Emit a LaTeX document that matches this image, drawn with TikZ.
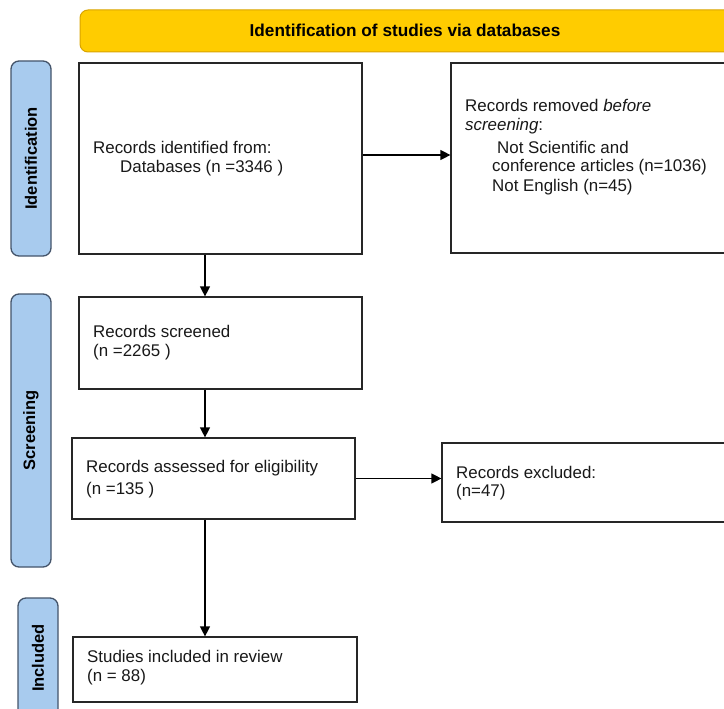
\documentclass[tikz,border=0pt]{standalone}
\usepackage{fontspec}
\setmainfont{Liberation Sans}
\usetikzlibrary{arrows.meta,calc}
\definecolor{hdrfill}{HTML}{FFCC00}
\definecolor{hdrline}{HTML}{D9A400}
\definecolor{sidefill}{HTML}{A8CBEE}
\definecolor{sideline}{HTML}{44546A}
\definecolor{boxline}{HTML}{262626}
\tikzset{
  hdrbox/.style={draw=hdrline, fill=hdrfill, line width=1pt, rounded corners=8pt, inner sep=0pt},
  sidebox/.style={draw=sideline, fill=sidefill, line width=1.3pt, rounded corners=8pt, rotate=90, inner sep=0pt, minimum height=40pt, font=\fontsize{16.5}{20}\selectfont\bfseries},
  flowbox/.style={draw=boxline, fill=white, line width=1.2pt, inner sep=0pt},
  txt/.style={anchor=west, inner sep=0pt, font=\fontsize{16.9}{20}\selectfont, text=black!90},
  arr/.style={draw=black, line width=1.2pt, -{Triangle[length=10pt,width=10pt]}},
}
\begin{document}
\begin{tikzpicture}[x=1pt,y=-1pt]
\useasboundingbox (0,0) rectangle (724,709);
\clip (0,0) rectangle (724,709);
% header
\node[hdrbox, minimum width=660pt, minimum height=42pt] (hdr) at (410,31) {};
\node[inner sep=0pt, font=\fontsize{17.2}{20}\selectfont\bfseries] (hdrtxt) at (405,30) {Identification of studies via databases};
% side labels
\node[sidebox, minimum width=195pt] (sid) at (31,158.5) {Identification};
\node[sidebox, minimum width=273pt] (sscr) at (31,430.5) {Screening};
\node[sidebox, minimum width=120pt] (sinc) at (38,658) {Included};
% boxes
\node[flowbox, minimum width=283pt, minimum height=191pt] (b1) at (220.5,158.5) {};
\node[flowbox, minimum width=290pt, minimum height=190pt] (b2) at (596,158) {};
\node[flowbox, minimum width=283pt, minimum height=92pt] (b3) at (220.5,343) {};
\node[flowbox, minimum width=283pt, minimum height=81pt] (b4) at (213.5,478.5) {};
\node[flowbox, minimum width=295pt, minimum height=79pt] (b5) at (589.5,482.5) {};
\node[flowbox, minimum width=284pt, minimum height=65pt] (b6) at (215,669.5) {};
% texts
\node[txt] (t1a) at (93,147) {Records identified from:};
\node[txt] (t1b) at (120,168) {Databases (n =3346 )};
\node[txt] (t2a) at (465,105) {Records removed \textit{before}};
\node[txt] (t2b) at (465,126) {\textit{screening}:};
\node[txt] (t2c) at (497,147) {Not Scientific and};
\node[txt] (t2d) at (492,167) {conference articles (n=1036)};
\node[txt] (t2e) at (492,187) {Not English (n=45)};
\node[txt] (t3a) at (93,331) {Records screened};
\node[txt] (t3b) at (93,352) {(n =2265 )};
\node[txt] (t4a) at (86,468) {Records assessed for eligibility};
\node[txt] (t4b) at (86,490) {(n =135 )};
\node[txt] (t5a) at (456,472) {Records excluded:};
\node[txt] (t5b) at (456,492) {(n=47)};
\node[txt] (t6a) at (87,656) {Studies included in review};
\node[txt] (t6b) at (87,677) {(n = 88)};
% connectors
\coordinate (cx) at (205,0);
\coordinate (cy) at (0,155);
\draw[arr] (b1.east |- cy) -- (b2.west |- cy);
\draw[arr] (b1.south -| cx) -- (b3.north -| cx);
\draw[arr] (b3.south -| cx) -- (b4.north -| cx);
\draw[arr] (b4.east) -- (b4.east -| b5.west);
\draw[arr] (b4.south -| cx) -- (b6.north -| cx);
\end{tikzpicture}
\end{document}
